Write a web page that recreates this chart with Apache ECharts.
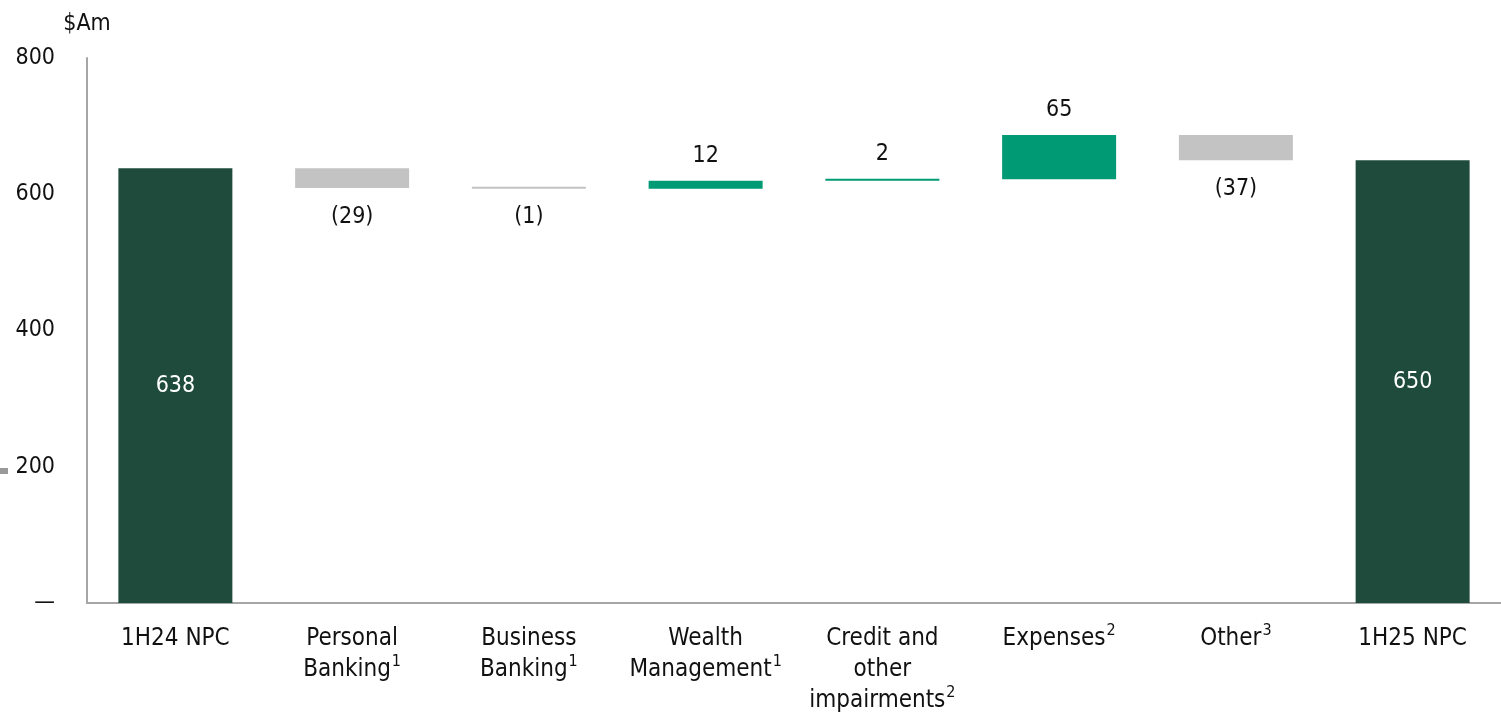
<!DOCTYPE html>
<html>
<head>
<meta charset="utf-8">
<script src="https://cdn.jsdelivr.net/npm/echarts@6/dist/echarts.min.js"></script>
<style>
  html, body { margin: 0; padding: 0; background: #fff; }
  #chart { width: 1501px; height: 713px; }
</style>
</head>
<body>
<div id="chart"></div>
<script>
// categories and superscript note numbers
const categories = ["1H24 NPC", "Personal\nBanking", "Business\nBanking", "Wealth\nManagement",
  "Credit and\nother\nimpairments", "Expenses", "Other", "1H25 NPC"];
const notes = ["", "1", "1", "1", "2", "2", "3", ""];
// values: totals for first/last, movements between
const values = [638, -29, -1, 12, 2, 65, -37, 650];
const isTotal = [true, false, false, false, false, false, false, true];
const yTicks = [0, 200, 400, 600, 800];

const font = '"Liberation Sans Narrow", "DejaVu Sans Condensed", sans-serif';
const darkGreen = "#1e4b3c";
const green = "#009a74";
const grey = "#c3c3c3";

// build invisible base + visible bar for the waterfall
const base = [];
const bars = [];
let running = 0;
values.forEach((v, i) => {
  if (isTotal[i]) {
    base.push(0);
    bars.push({
      value: v,
      itemStyle: { color: darkGreen },
      label: { show: true, position: "inside", color: "#fff", formatter: String(v) }
    });
    running = v;
  } else {
    const lo = v < 0 ? running + v : running;
    base.push(lo);
    bars.push({
      value: Math.abs(v),
      itemStyle: { color: v < 0 ? grey : green },
      label: {
        show: true,
        position: v < 0 ? "bottom" : "top",
        distance: v < 0 ? 17 : 13,
        color: "#111",
        formatter: v < 0 ? "(" + Math.abs(v) + ")" : String(v)
      }
    });
    running += v;
  }
});

const chart = echarts.init(document.getElementById("chart"));
chart.setOption({
  animation: false,
  textStyle: { fontFamily: font },
  grid: { left: 87, right: 0, top: 58, bottom: 110, outerBoundsMode: "none" },
  xAxis: {
    type: "category",
    data: categories,
    axisLine: { lineStyle: { color: "#a6a6a6", width: 2 } },
    axisTick: { show: false },
    axisLabel: {
      interval: 0,
      margin: 20,
      color: "#111",
      fontSize: 24,
      lineHeight: 31,
      fontFamily: font,
      formatter: (val, idx) => notes[idx] ? val + "{sup|" + notes[idx] + "}" : val,
      rich: {
        sup: { fontSize: 16, lineHeight: 31, padding: [0, 0, 16, 1], fontFamily: font, color: "#111" }
      }
    }
  },
  yAxis: {
    type: "value",
    min: yTicks[0],
    max: yTicks[yTicks.length - 1],
    interval: 200,
    name: "$Am",
    nameGap: 22,
    nameTextStyle: { color: "#111", fontSize: 23, fontFamily: font },
    axisLine: { show: true, lineStyle: { color: "#a6a6a6", width: 2 } },
    axisTick: { show: false },
    splitLine: { show: false },
    axisLabel: {
      margin: 32,
      color: "#111",
      fontSize: 23,
      fontFamily: font,
      padding: [7, 0, 0, 0],
      formatter: v => v === 0 ? "—" : String(v)
    }
  },
  graphic: [
    { type: "rect", left: 0, top: 468, shape: { width: 8, height: 6 }, style: { fill: "#999" } }
  ],
  series: [
    {
      type: "bar",
      stack: "w",
      data: base,
      barWidth: 114,
      itemStyle: { color: "transparent" },
      emphasis: { disabled: true },
      silent: true
    },
    {
      type: "bar",
      stack: "w",
      data: bars,
      barWidth: 114,
      barMinHeight: 2,
      label: { fontSize: 23, fontFamily: font }
    }
  ]
});
</script>
</body>
</html>
